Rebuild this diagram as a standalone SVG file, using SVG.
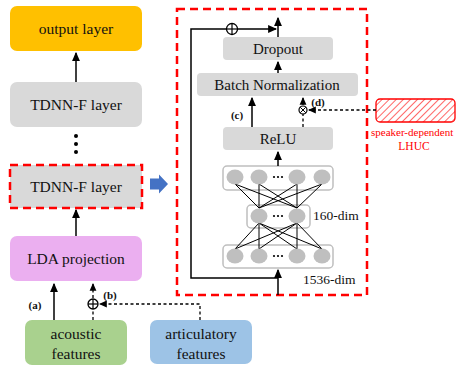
<svg xmlns="http://www.w3.org/2000/svg" width="456" height="367" viewBox="0 0 456 367">
<defs>
<style>
.t{font-family:"Liberation Serif","Times New Roman",serif;fill:#111;text-anchor:middle}
.gray{fill:#D9D9D9}
.ln{stroke:#000;stroke-width:1.5;fill:none}
.dl{stroke:#000;stroke-width:1.3;fill:none;stroke-dasharray:3,2.5}
.red{fill:none;stroke:#FF0000;stroke-width:2.5;stroke-dasharray:8,5}
.lab{font-family:"Liberation Serif",serif;font-weight:bold;font-size:11px;fill:#111;text-anchor:middle}
.neu{fill:#BFBFBF}
.nbox{fill:#fff;stroke:#BFBFBF;stroke-width:1.5}
.nl{stroke:#000;stroke-width:1}
</style>
<marker id="ah" viewBox="0 0 8 8" refX="7" refY="4" markerWidth="6" markerHeight="6" orient="auto"><path d="M0,0.5 L8,4 L0,7.5 Z" fill="#000"/></marker>
<pattern id="hatch" patternUnits="userSpaceOnUse" width="5" height="5" patternTransform="rotate(45)"><line x1="0" y1="0" x2="0" y2="5" stroke="#FF0000" stroke-width="1.2"/></pattern>
</defs>

<g id="output-layer"><rect x="10" y="6" width="132" height="45" rx="7" fill="#FFC000"/><text class="t" x="76" y="34" font-size="15.5">output layer</text></g>
<g id="tdnn-top"><rect x="10" y="82" width="132" height="45" rx="7" class="gray"/><text class="t" x="76" y="110" font-size="15.5">TDNN-F layer</text></g>
<g id="dots"><circle cx="76" cy="136" r="2" fill="#000"/><circle cx="76" cy="144" r="2" fill="#000"/><circle cx="76" cy="152" r="2" fill="#000"/></g>
<g id="tdnn-sel"><rect x="10" y="165" width="132" height="43" class="gray"/><rect x="10" y="165" width="132" height="43" class="red"/><text class="t" x="76" y="192" font-size="15.5">TDNN-F layer</text></g>
<g id="lda"><rect x="10" y="236" width="132" height="45" rx="7" fill="#EBAFF0"/><text class="t" x="76" y="264" font-size="15.5">LDA projection</text></g>
<g id="acoustic"><rect x="25" y="320" width="102" height="45" rx="7" fill="#A9D18E"/><text class="t" x="76" y="339" font-size="15.5">acoustic</text><text class="t" x="76" y="359" font-size="15.5">features</text></g>
<g id="articulatory"><rect x="150" y="320" width="102" height="44" rx="7" fill="#9DC3E6"/><text class="t" x="201" y="339" font-size="15.5">articulatory</text><text class="t" x="201" y="359" font-size="15.5">features</text></g>
<g id="blue-arrow"><path d="M150,178.5 H159 V174.5 L168,184 L159,193.5 V189.5 H150 Z" fill="#4472C4"/></g>

<g id="big-box"><rect x="177" y="9" width="190" height="286" class="red"/></g>
<g id="dropout"><rect x="223" y="37" width="110" height="23" rx="4" class="gray"/><text class="t" x="278" y="54" font-size="15">Dropout</text></g>
<g id="batchnorm"><rect x="197" y="73" width="161" height="23" rx="4" class="gray"/><text class="t" x="277" y="90" font-size="15">Batch Normalization</text></g>
<g id="relu"><rect x="223" y="127" width="110" height="23" rx="4" class="gray"/><text class="t" x="278" y="144" font-size="15">ReLU</text></g>
<g id="lhuc"><rect x="376" y="99" width="79" height="23" rx="4" fill="url(#hatch)" stroke="#FF0000" stroke-width="1.3"/><text class="t" x="371" y="136" font-size="11" style="fill:#FF0000;text-anchor:start">speaker-dependent</text><text class="t" x="414" y="150" font-size="11.5" style="fill:#FF0000">LHUC</text></g>

<g id="nn">
<rect x="223" y="166" width="110" height="24" rx="4" class="nbox"/>
<rect x="247" y="205" width="63" height="23" rx="4" class="nbox"/>
<rect x="223" y="245" width="110" height="23" rx="4" class="nbox"/>
<g class="nl">
<line x1="235" y1="184" x2="259" y2="208"/><line x1="235" y1="184" x2="297" y2="208"/>
<line x1="259" y1="184" x2="259" y2="208"/><line x1="259" y1="184" x2="297" y2="208"/>
<line x1="297" y1="184" x2="259" y2="208"/><line x1="297" y1="184" x2="297" y2="208"/>
<line x1="322" y1="184" x2="259" y2="208"/><line x1="322" y1="184" x2="297" y2="208"/>
<line x1="259" y1="223" x2="235" y2="249"/><line x1="259" y1="223" x2="259" y2="249"/>
<line x1="259" y1="223" x2="297" y2="249"/><line x1="259" y1="223" x2="322" y2="249"/>
<line x1="297" y1="223" x2="235" y2="249"/><line x1="297" y1="223" x2="259" y2="249"/>
<line x1="297" y1="223" x2="297" y2="249"/><line x1="297" y1="223" x2="322" y2="249"/>
</g>
<ellipse cx="235" cy="177" rx="8.5" ry="7.5" class="neu"/><ellipse cx="259" cy="177" rx="8.5" ry="7.5" class="neu"/><ellipse cx="297" cy="177" rx="8.5" ry="7.5" class="neu"/><ellipse cx="322" cy="177" rx="8.5" ry="7.5" class="neu"/>
<ellipse cx="259" cy="216" rx="8.5" ry="7.5" class="neu"/><ellipse cx="297" cy="216" rx="8.5" ry="7.5" class="neu"/>
<ellipse cx="235" cy="256" rx="8.5" ry="7.5" class="neu"/><ellipse cx="259" cy="256" rx="8.5" ry="7.5" class="neu"/><ellipse cx="297" cy="256" rx="8.5" ry="7.5" class="neu"/><ellipse cx="322" cy="256" rx="8.5" ry="7.5" class="neu"/>
<g fill="#000"><circle cx="274" cy="177" r="1.1"/><circle cx="278" cy="177" r="1.1"/><circle cx="282" cy="177" r="1.1"/><circle cx="274" cy="216" r="1.1"/><circle cx="278" cy="216" r="1.1"/><circle cx="282" cy="216" r="1.1"/><circle cx="274" cy="256" r="1.1"/><circle cx="278" cy="256" r="1.1"/><circle cx="282" cy="256" r="1.1"/></g>
<text class="t" x="313" y="220" font-size="13.5" style="text-anchor:start">160-dim</text>
<text class="t" x="303" y="284" font-size="13.5" style="text-anchor:start">1536-dim</text>
</g>

<g id="connectors">
<line class="ln" x1="76" y1="82" x2="76" y2="53" marker-end="url(#ah)"/>
<line class="ln" x1="76" y1="236" x2="76" y2="210" marker-end="url(#ah)"/>
<line class="ln" x1="54" y1="320" x2="54" y2="284" marker-end="url(#ah)"/>
<line class="dl" x1="93" y1="320" x2="93" y2="284" marker-end="url(#ah)"/>
<polyline class="dl" points="200,320 200,304 100,304" marker-end="url(#ah)"/>
<circle cx="93" cy="304" r="5" fill="#fff" stroke="#000" stroke-width="1.3"/><line x1="88" y1="304" x2="98" y2="304" stroke="#000" stroke-width="1.2"/><line x1="93" y1="299" x2="93" y2="309" stroke="#000" stroke-width="1.2"/>
<text class="lab" x="35" y="309">(a)</text>
<text class="lab" x="110" y="299">(b)</text>

<line class="ln" x1="278" y1="295" x2="278" y2="270" marker-end="url(#ah)"/>
<polyline class="ln" points="278,278 191,278 191,29 276,29" marker-end="url(#ah)"/>
<circle cx="232" cy="29" r="5.5" fill="#fff" stroke="#000" stroke-width="1.3"/><line x1="226.5" y1="29" x2="237.5" y2="29" stroke="#000" stroke-width="1.2"/><line x1="232" y1="23.5" x2="232" y2="34.5" stroke="#000" stroke-width="1.2"/>
<line class="ln" x1="278" y1="37" x2="278" y2="18" marker-end="url(#ah)"/>
<line class="ln" x1="278" y1="73" x2="278" y2="62" marker-end="url(#ah)"/>
<line class="ln" x1="278" y1="166" x2="278" y2="152" marker-end="url(#ah)"/>
<line class="ln" x1="252" y1="127" x2="252" y2="98" marker-end="url(#ah)"/>
<line class="dl" x1="303" y1="127" x2="303" y2="98" marker-end="url(#ah)"/>
<line class="dl" x1="376" y1="110" x2="309" y2="110" marker-end="url(#ah)"/>
<circle cx="303" cy="110" r="4" fill="#fff" stroke="#000" stroke-width="1.2"/><line x1="300.2" y1="107.2" x2="305.8" y2="112.8" stroke="#000" stroke-width="1"/><line x1="305.8" y1="107.2" x2="300.2" y2="112.8" stroke="#000" stroke-width="1"/>
<text class="lab" x="237" y="119">(c)</text>
<text class="lab" x="318" y="106">(d)</text>
</g>
</svg>
